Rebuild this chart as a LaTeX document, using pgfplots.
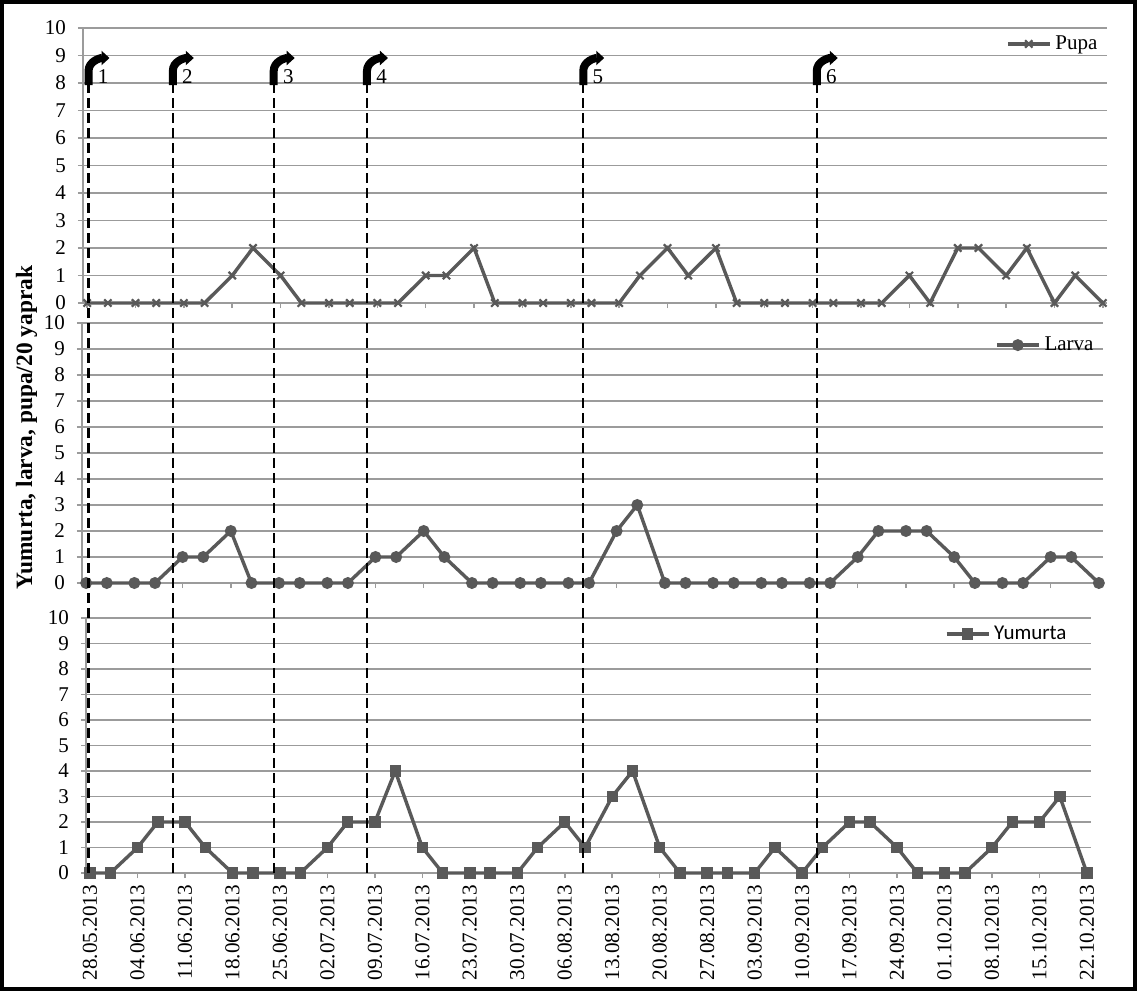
\documentclass[border=0pt]{standalone}
\usepackage{fontspec}
\setmainfont{Liberation Serif}
\newfontfamily\tms{Liberation Serif}
\newfontfamily\carlito{Carlito}
\usepackage{pgfplots}
\usepackage{pgfplotstable}
\pgfplotsset{compat=1.18}
\usetikzlibrary{arrows.meta}
\definecolor{sercol}{RGB}{89,89,89}
\definecolor{gridc}{RGB}{155,155,155}

\pgfplotstableread{
d pupa larva yum
0 0 0 0
3 0 0 0
7 0 0 1
10 0 0 2
14 0 1 2
17 0 1 1
21 1 2 0
24 2 0 0
28 1 0 0
31 0 0 0
35 0 0 1
38 0 0 2
42 0 1 2
45 0 1 4
49 1 2 1
52 1 1 0
56 2 0 0
59 0 0 0
63 0 0 0
66 0 0 1
70 0 0 2
73 0 0 1
77 0 2 3
80 1 3 4
84 2 0 1
87 1 0 0
91 2 0 0
94 0 0 0
98 0 0 0
101 0 0 1
105 0 0 0
108 0 0 1
112 0 1 2
115 0 2 2
119 1 2 1
122 0 2 0
126 2 1 0
129 2 0 0
133 1 0 1
136 2 0 2
140 0 1 2
143 1 1 3
147 0 0 0
}\datatab

\pgfplotsset{
  panel/.style={
    scale only axis,
    clip=false,
    xmin=-0.6, xmax=147.6, ymin=0, ymax=10,
    axis x line*=bottom, axis y line*=left,
    axis line style={gridc, line width=0.75pt, -},
    ytick={0,1,...,10},
    xtick={0,7,...,147},
    ymajorgrids,
    grid style={gridc, line width=0.75pt},
    tick style={gridc, line width=0.75pt},
    tick align=outside,
    major tick length=2.5pt,
    /pgf/number format/assume math mode=true,
    yticklabel style={font=\tms\fontsize{10.5}{12}\selectfont, text=black, xshift=-2.5pt},
    legend style={draw=none, fill=none, inner sep=0pt, anchor=east,
      font=\tms\fontsize{10.5}{12}\selectfont},
    legend image code/.code={\draw[mark repeat=2,mark phase=2,##1] plot coordinates {(0pt,0pt) (10.5pt,0pt) (21pt,0pt)};},
  },
  serstyle/.style={sercol, line width=1.7pt},
}

\begin{document}
\tms
\begin{tikzpicture}
% Top panel: Pupa
\begin{axis}[panel, at={(41.5pt,-151.5pt)}, anchor=south west,
  width=512pt, height=137.5pt, xticklabels={},
  legend style={at={(0.995,0.942)}}]
\addplot[serstyle, mark=x, mark size=2.6pt, mark options={solid, line width=1.1pt}] table[x=d,y=pupa]{\datatab};
\legend{Pupa}
\coordinate (a1) at (axis cs:0.2,8);
\coordinate (a2) at (axis cs:12.4,8);
\coordinate (a3) at (axis cs:27.0,8);
\coordinate (a4) at (axis cs:40.5,8);
\coordinate (a5) at (axis cs:71.8,8);
\coordinate (a6) at (axis cs:105.6,8);
\end{axis}
% Middle panel: Larva
\begin{axis}[panel, at={(41pt,-291.5pt)}, anchor=south west,
  width=510.5pt, height=130pt, xticklabels={},
  legend style={at={(0.995,0.915)}}]
\addplot[serstyle, mark=*, mark size=2.1pt, mark options={solid}] table[x=d,y=larva]{\datatab};
\legend{Larva}
\end{axis}
% Bottom panel: Yumurta
\begin{axis}[panel, at={(43pt,-436.5pt)}, anchor=south west,
  width=502.5pt, height=127.5pt,
  xticklabels={28.05.2013,04.06.2013,11.06.2013,18.06.2013,25.06.2013,02.07.2013,09.07.2013,16.07.2013,23.07.2013,30.07.2013,06.08.2013,13.08.2013,20.08.2013,27.08.2013,03.09.2013,10.09.2013,17.09.2013,24.09.2013,01.10.2013,08.10.2013,15.10.2013,22.10.2013},
  xticklabel style={rotate=90, anchor=east, font=\tms\fontsize{10.6}{12}\selectfont, text=black},
  legend style={at={(0.98,0.937)}, font=\carlito\fontsize{10.5}{12}\selectfont}]
\addplot[serstyle, mark=square*, mark size=2pt, mark options={solid}] table[x=d,y=yum]{\datatab};
\legend{Yumurta}
\coordinate (b0) at (axis cs:0,0);
\end{axis}
% annotations: dashed lines and bent arrows
\foreach \i in {1,...,6}{
  \draw[black, line width=1.2pt, dash pattern=on 5pt off 2.5pt] (a\i) -- ([yshift=-1pt]a\i |- b0);
  \draw[black, line width=4pt, -{Triangle[length=4pt,width=7pt]}] ([yshift=-1pt]a\i) -- ++(0,7pt) to[out=90,in=180] ++(10.5pt,6.5pt);
  \node[anchor=base west, inner sep=0pt, font=\tms\fontsize{10.5}{12}\selectfont] at ([xshift=4.5pt]a\i) {\i};
}
\node[rotate=90, font=\tms\bfseries\fontsize{11.7}{13}\selectfont] at (13.3pt,-213.75pt) {Yumurta, larva, pupa/20 yaprak};
\draw[black, line width=2pt] (1pt,-1pt) rectangle (567.5pt,-494.5pt);
\end{tikzpicture}
\end{document}
